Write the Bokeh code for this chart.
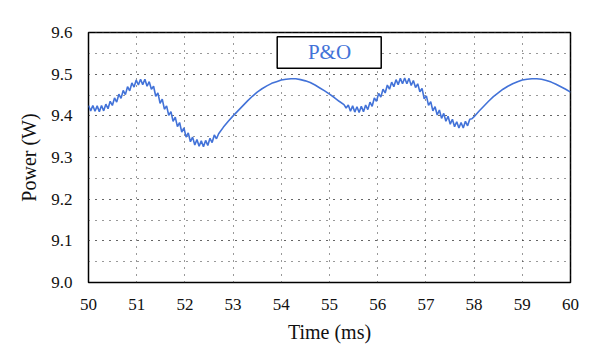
import numpy as np
from bokeh.plotting import figure
from bokeh.models import BoxAnnotation, Label, SingleIntervalTicker, NumeralTickFormatter, Range1d
from bokeh.embed import file_html
from bokeh.resources import INLINE

# ---- data ----
# ripple section 1 (sampled every 0.045 ms, 50.0 -> 52.7 ms)
t_ripple1 = np.round(50.0 + 0.045 * np.arange(61), 3)
p_ripple1 = [9.425, 9.412, 9.425, 9.411, 9.424, 9.410, 9.425, 9.412, 9.428, 9.417,
             9.435, 9.425, 9.443, 9.433, 9.452, 9.442, 9.461, 9.451, 9.470, 9.460,
             9.479, 9.469, 9.486, 9.474, 9.488, 9.475, 9.488, 9.471, 9.482, 9.464,
             9.471, 9.447, 9.455, 9.430, 9.440, 9.416, 9.424, 9.401, 9.410, 9.387,
             9.397, 9.374, 9.384, 9.361, 9.371, 9.349, 9.359, 9.338, 9.349, 9.330,
             9.343, 9.327, 9.340, 9.326, 9.341, 9.329, 9.346, 9.336, 9.354, 9.345,
             9.357]

# smooth section 1 (52.8 -> 55.2 ms)
t_smooth1 = [52.8, 52.9, 53.0, 53.1, 53.2, 53.3, 53.4, 53.5, 53.6, 53.7, 53.8, 53.9,
             54.0, 54.1, 54.2, 54.3, 54.4, 54.5, 54.6, 54.7, 54.8, 54.9, 55.0, 55.1, 55.2]
p_smooth1 = [9.373, 9.387, 9.400, 9.412, 9.424, 9.436, 9.447, 9.457, 9.465, 9.472, 9.478, 9.482,
             9.486, 9.488, 9.489, 9.489, 9.487, 9.484, 9.480, 9.474, 9.467, 9.460, 9.452, 9.444, 9.435]

# ripple section 2 (sampled every 0.045 ms, 55.3 -> 57.955 ms)
t_ripple2 = np.round(55.3 + 0.045 * np.arange(60), 3)
p_ripple2 = [9.427, 9.419, 9.426, 9.411, 9.424, 9.409, 9.422, 9.408, 9.423, 9.410,
             9.426, 9.415, 9.433, 9.423, 9.443, 9.435, 9.454, 9.445, 9.464, 9.455,
             9.474, 9.464, 9.481, 9.470, 9.487, 9.475, 9.490, 9.477, 9.491, 9.477,
             9.490, 9.473, 9.485, 9.468, 9.477, 9.458, 9.466, 9.441, 9.448, 9.425,
             9.434, 9.412, 9.422, 9.402, 9.414, 9.394, 9.406, 9.387, 9.399, 9.380,
             9.392, 9.374, 9.386, 9.371, 9.384, 9.371, 9.387, 9.376, 9.392, 9.393]

# smooth section 2 (58.0 -> 60.0 ms)
t_smooth2 = [58.0, 58.1, 58.2, 58.3, 58.4, 58.5, 58.6, 58.7, 58.8, 58.9, 59.0,
             59.1, 59.2, 59.3, 59.4, 59.5, 59.6, 59.7, 59.8, 59.9, 60.0]
p_smooth2 = [9.398, 9.411, 9.423, 9.435, 9.446, 9.455, 9.464, 9.471, 9.477, 9.482, 9.486,
             9.488, 9.489, 9.489, 9.488, 9.485, 9.481, 9.476, 9.470, 9.464, 9.457]

time_ms = list(t_ripple1) + t_smooth1 + list(t_ripple2) + t_smooth2
power_w = p_ripple1 + p_smooth1 + p_ripple2 + p_smooth2

legend_text = "P&O"
x_label = "Time (ms)"
y_label = "Power (W)"

# ---- figure ----
FONT = "Liberation Serif"
BLUE = "#4272d8"

p = figure(width=584, height=347, output_backend="svg", toolbar_location=None,
           x_range=Range1d(50, 60.0001), y_range=Range1d(9.0, 9.6001),
           min_border_left=88, min_border_right=14, min_border_top=32, min_border_bottom=65)

p.line(time_ms, power_w, line_color=BLUE, line_width=1.6)

p.outline_line_color = "black"
p.outline_line_width = 1.5
p.outline_line_alpha = 1.0
p.background_fill_color = "white"
p.border_fill_color = "white"

p.xaxis.ticker = SingleIntervalTicker(interval=1, num_minor_ticks=0)
p.yaxis.ticker = SingleIntervalTicker(interval=0.1, num_minor_ticks=2)
p.yaxis.formatter = NumeralTickFormatter(format="0.0")

for ax in (p.xaxis[0], p.yaxis[0]):
    ax.axis_line_color = None
    ax.major_tick_line_color = None
    ax.minor_tick_line_color = None
    ax.major_label_text_font = FONT
    ax.major_label_text_font_size = "17px"
    ax.major_label_text_color = "#111111"
    ax.axis_label_text_font = FONT
    ax.axis_label_text_font_size = "20px"
    ax.axis_label_text_font_style = "normal"
    ax.axis_label_text_color = "#111111"

p.xaxis.axis_label = x_label
p.yaxis.axis_label = y_label
p.xaxis.major_label_standoff = 10
p.yaxis.major_label_standoff = 10
p.xaxis.axis_label_standoff = 8
p.yaxis.axis_label_standoff = 8

p.xgrid.grid_line_color = "#333333"
p.xgrid.grid_line_dash = "1 6"
p.xgrid.grid_line_width = 1
p.ygrid.grid_line_color = "#333333"
p.ygrid.grid_line_dash = "1 6"
p.ygrid.grid_line_width = 1
p.ygrid.minor_grid_line_color = "#333333"
p.ygrid.minor_grid_line_dash = "1 6"
p.ygrid.minor_grid_line_width = 1

box = BoxAnnotation(left=53.915, right=56.073, bottom=9.514, top=9.590,
                    fill_color="white", fill_alpha=1.0,
                    line_color="black", line_alpha=1.0, line_width=1.5)
p.add_layout(box)
p.add_layout(Label(x=55.0, y=9.553, text=legend_text, text_font=FONT,
                   text_font_size="21px", text_color=BLUE,
                   text_align="center", text_baseline="middle"))

open("out.html", "w").write(file_html(p, INLINE))
